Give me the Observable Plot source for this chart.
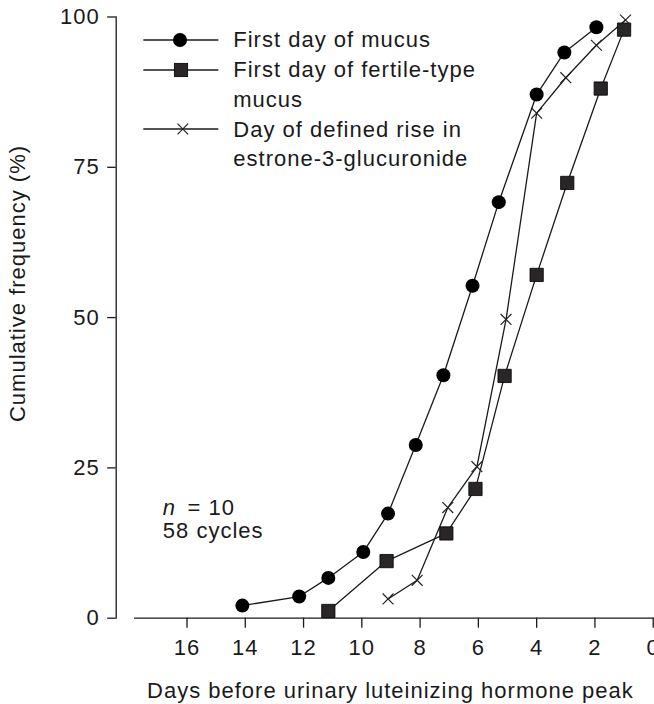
<!DOCTYPE html>
<html><head><meta charset="utf-8">
<script src="https://cdn.jsdelivr.net/npm/d3@7"></script>
<script src="https://cdn.jsdelivr.net/npm/@observablehq/plot@0.6"></script>
<style>html,body{margin:0;padding:0;background:#fff;overflow:hidden}</style>
</head><body><div id="chart"></div>
<script>
// Days before LH peak (x) and cumulative frequency % (y)
const mucusDays   = [14.1, 12.15, 11.15, 9.95, 9.1, 8.15, 7.2, 6.2, 5.3, 4.0, 3.05, 1.95];
const mucusPct    = [2.1, 3.6, 6.7, 11.0, 17.4, 28.8, 40.4, 55.3, 69.2, 87.1, 94.1, 98.3];
const fertileDays = [11.15, 9.15, 7.1, 6.1, 5.1, 4.0, 2.95, 1.8, 1.0];
const fertilePct  = [1.2, 9.5, 14.1, 21.5, 40.3, 57.1, 72.4, 88.1, 97.9];
const e3gDays     = [9.1, 8.1, 7.05, 6.05, 5.05, 4.0, 3.0, 1.95, 0.95];
const e3gPct      = [3.2, 6.3, 18.4, 25.2, 49.7, 84.0, 89.9, 95.3, 99.5];
const xTicks = [16, 14, 12, 10, 8, 6, 4, 2, 0];
const yTicks = [0, 25, 50, 75, 100];
const legendLabels = [["First day of mucus"], ["First day of fertile-type", "mucus"], ["Day of defined rise in", "estrone-3-glucuronide"]];
const xTitle = "Days before urinary luteinizing hormone peak";
const yTitle = "Cumulative frequency (%)";
const noteN = "10";
const noteCycles = "58 cycles";

const rows = (d, p) => d.map((v, i) => ({day: v, pct: p[i]}));
const mucus = rows(mucusDays, mucusPct);
const fertile = rows(fertileDays, fertilePct);
const e3g = rows(e3gDays, e3gPct);

const ink = "#1a1a1a";
const font = "'Liberation Sans', Arial, Helvetica, sans-serif";

const svg = Plot.plot({
  width: 654, height: 704,
  marginTop: 16.5, marginBottom: 86.3, marginLeft: 115.7, marginRight: 1.3,
  style: {fontFamily: font, fontSize: "22px", letterSpacing: "1px", color: ink, background: "#fff"},
  x: {domain: [18.43, 0], axis: null},
  y: {domain: [0, 100], axis: null},
  marks: [
    Plot.frame({anchor: "left", stroke: ink, strokeWidth: 1.3}),
    Plot.ruleY([0], {x1: 17.8, x2: -0.06, stroke: ink, strokeWidth: 1.3}),
    Plot.axisY({ticks: yTicks, anchor: "left", tickSize: 8.5, tickPadding: 8, strokeWidth: 1.3, label: null}),
    Plot.axisX({ticks: xTicks, anchor: "bottom", tickSize: 10, tickPadding: 11.5, strokeWidth: 1.3, label: null}),
    Plot.line(mucus, {x: "day", y: "pct", stroke: ink, strokeWidth: 1.3}),
    Plot.line(fertile, {x: "day", y: "pct", stroke: ink, strokeWidth: 1.3}),
    Plot.line(e3g, {x: "day", y: "pct", stroke: ink, strokeWidth: 1.3}),
    Plot.dot(mucus, {x: "day", y: "pct", symbol: "circle", r: 7, fill: "#000", stroke: "none"}),
    Plot.dot(fertile, {x: "day", y: "pct", symbol: "square", r: 7.5, fill: "#2a2526", stroke: "#000", strokeWidth: 0.8}),
    Plot.dot(e3g, {x: "day", y: "pct", symbol: "times", r: 5, stroke: "#222", strokeWidth: 1.2})
  ]
});
document.getElementById("chart").appendChild(svg);

const s = d3.select(svg);
const g = s.append("g").attr("fill", ink).attr("font-family", font).attr("font-size", 22)
  .attr("text-anchor", "start").style("letter-spacing", "1px");

// Axis titles
g.append("text").attr("x", 390.4).attr("y", 697.7).attr("text-anchor", "middle").text(xTitle);
g.append("text").attr("transform", "translate(25,283.5) rotate(-90)").attr("text-anchor", "middle").text(yTitle);

// Annotation
const t = g.append("text").attr("x", 162.8).attr("y", 515);
t.append("tspan").attr("font-style", "italic").text("n");
g.append("text").attr("x", 187.5).attr("y", 515).text("= " + noteN);
g.append("text").attr("x", 162.8).attr("y", 538.3).text(noteCycles);

// Legend
const lg = s.append("g");
const rowsY = [40, 70, 129];
const baselines = [[47], [77, 106.5], [136.5, 166]];
rowsY.forEach((y, i) => {
  lg.append("line").attr("x1", 143.3).attr("x2", 218.3).attr("y1", y).attr("y2", y).attr("stroke", ink).attr("stroke-width", 1.3);
  if (i === 0) lg.append("circle").attr("cx", 180).attr("cy", y).attr("r", 7).attr("fill", "#000");
  if (i === 1) lg.append("rect").attr("x", 181 - 6.65).attr("y", y - 6.65).attr("width", 13.3).attr("height", 13.3).attr("fill", "#2a2526").attr("stroke", "#000").attr("stroke-width", 0.8);
  if (i === 2) lg.append("path").attr("d", `M${182.8-5.3},${y-5.3}L${182.8+5.3},${y+5.3}M${182.8-5.3},${y+5.3}L${182.8+5.3},${y-5.3}`).attr("stroke", "#222").attr("stroke-width", 1.2).attr("fill", "none");
  legendLabels[i].forEach((txt, j) => {
    g.append("text").attr("x", 233.3).attr("y", baselines[i][j]).text(txt);
  });
});
</script>
</body></html>
